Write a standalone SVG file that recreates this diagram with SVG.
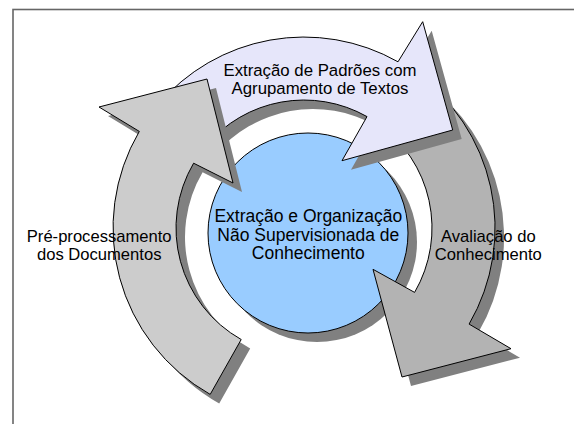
<svg xmlns="http://www.w3.org/2000/svg" width="574" height="424" viewBox="0 0 574 424">
<style>
.sh{fill:#808080;stroke:none}
.ol{stroke:#000;stroke-width:1;stroke-linejoin:miter}
.lbl{font-family:"Liberation Sans",Arial,sans-serif;fill:#000;text-anchor:middle}
</style>
<defs>
<path id="pL" d="M241.2,339.5 L210.2,394.4 A191,191 0 0 1 139.3,131.4 L99,107 L207,79 L233,183 L193.6,163.2 A128,128 0 0 0 241.2,339.5 Z"/>
<path id="pP" d="M206,145.7 L157.7,105.2 A191,191 0 0 1 398,61.8 L422.7,21.7 L452.7,130 L342,160.7 L367,116.6 A128,128 0 0 0 206,145.7 Z"/>
<path id="pR" d="M377.4,123.1 L413.6,71.5 A191,191 0 0 1 469.1,324.1 L511,348.7 L402,377 L373,269.3 L414.6,292.4 A128,128 0 0 0 377.4,123.1 Z"/>
</defs>
<rect x="0" y="0" width="574" height="424" fill="#fff"/>
<rect x="13" y="9.5" width="620" height="470" fill="none" stroke="#666" stroke-width="1.6"/>
<g id="center-node">
<circle cx="317" cy="242" r="100" class="sh"/>
<circle cx="308" cy="233" r="100" fill="#99ccff" class="ol"/>
</g>
<g id="connectors">
<g id="arrow-avaliacao">
<use href="#pR" class="sh" transform="translate(9,9)"/>
<use href="#pR" fill="#b3b3b3" class="ol"/>
</g>
<g id="arrow-extracao-padroes">
<use href="#pP" class="sh" transform="translate(9,9)"/>
<use href="#pP" fill="#e6e6fa" class="ol"/>
</g>
<g id="arrow-preprocessamento">
<use href="#pL" class="sh" transform="translate(9,9)"/>
<use href="#pL" fill="#cccccc" class="ol"/>
</g>
</g>
<g id="labels">
<text class="lbl" font-size="16.8" x="320" y="75.7">Extração de Padrões com</text>
<text class="lbl" font-size="16.8" x="320" y="94">Agrupamento de Textos</text>
<text class="lbl" font-size="17.5" x="308.3" y="221.7">Extração e Organização</text>
<text class="lbl" font-size="17.5" x="308.3" y="240.5">Não Supervisionada de</text>
<text class="lbl" font-size="17.5" x="308.3" y="259.3">Conhecimento</text>
<text class="lbl" font-size="16.6" x="99.2" y="241.7">Pré-processamento</text>
<text class="lbl" font-size="16.6" x="99.2" y="260">dos Documentos</text>
<text class="lbl" font-size="16.6" x="488.3" y="241.7">Avaliação do</text>
<text class="lbl" font-size="16.6" x="488.3" y="260">Conhecimento</text>
</g>
</svg>
